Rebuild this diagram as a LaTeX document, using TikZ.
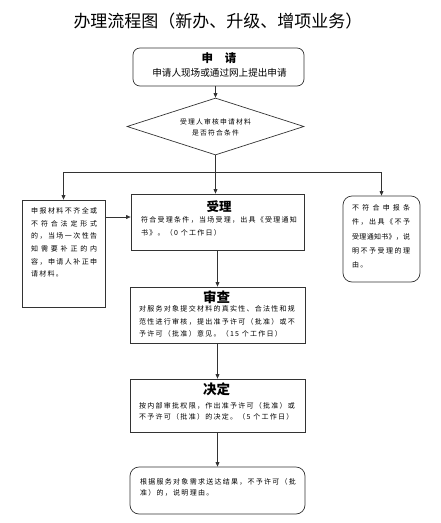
\documentclass[tikz,border=0pt]{standalone}
\usepackage{fontspec}
\usetikzlibrary{arrows.meta,shapes.geometric}
\setmainfont{Noto Sans CJK SC}
\newfontfamily\cjk{Noto Sans CJK SC}
\newfontfamily\cjksp[LetterSpace=18]{Noto Sans CJK SC}
\def\spr#1{#1\sprx}
\def\sprx#1{\ifx#1\relax\else\hfill#1\expandafter\sprx\fi}
\newcommand\jline[2]{\hbox to #1{\spr#2\relax}}
\begin{document}
\begin{tikzpicture}[x=1pt,y=-1pt,
  box/.style={draw=black!80,line width=0.7pt,inner sep=0pt},
  rbox/.style={box,rounded corners=7pt},
  arr/.style={draw=black!80,line width=0.7pt,-{Triangle[length=4.5pt,width=3.8pt]}},
  ln/.style={draw=black!80,line width=0.7pt},
  small/.style={inner sep=0pt,anchor=west,align=left,font=\cjksp\fontsize{7}{12.6}\selectfont},
  head/.style={inner sep=0pt,font=\cjk\bfseries\fontsize{12.5}{14}\selectfont}]
\useasboundingbox (0,0) rectangle (441,523);
% title
\node[inner sep=0pt,font=\cjk\fontsize{17}{20}\selectfont] (title) at (218,21.5) {办理流程图（新办、升级、增项业务）};
% boxes
\node[rbox,minimum width=171pt,minimum height=38pt] (sq) at (218.5,67) {};
\node[box,diamond,minimum width=177pt,minimum height=57pt] (dm) at (215.5,126.5) {};
\node[box,minimum width=83pt,minimum height=107pt] (lb) at (63.5,253.5) {};
\node[box,minimum width=173pt,minimum height=56pt] (sl) at (217.5,222) {};
\node[rbox,rounded corners=9pt,minimum width=77pt,minimum height=86pt] (rb) at (381.5,239) {};
\node[box,minimum width=175pt,minimum height=56pt] (sc) at (217.5,315) {};
\node[box,minimum width=175pt,minimum height=53pt] (jd) at (217.5,405.5) {};
\node[rbox,rounded corners=9pt,minimum width=175pt,minimum height=47pt] (fb) at (217.5,490.5) {};
% texts
\node[inner sep=0pt,font=\cjk\bfseries\fontsize{11.5}{13}\selectfont] (sqh) at (219,58.5) {申\hspace{12pt}请};
\node[inner sep=0pt,font=\cjk\fontsize{9.6}{11}\selectfont] (sqt) at (219.5,72.5) {申请人现场或通过网上提出申请};
\node[inner sep=0pt,align=center,font=\cjksp\fontsize{6.8}{11}\selectfont] (dmt) at (215.5,127.5) {受理人审核申请材料\\是否符合条件};
\node[small] (lbt) at (31,242.5) {\jline{66pt}{申报材料不齐全或}\\\jline{66pt}{不符合法定形式}\\\jline{66pt}{的，当场一次性告}\\\jline{66pt}{知需要补正的内}\\\jline{66pt}{容，申请人补正申}\\请材料。};
\node[head] (slh) at (219,206.5) {受理};
\node[small] (slt) at (141,226.5) {符合受理条件，当场受理，出具《受理通知\\书》。（0 个工作日）};
\node[small,font=\cjksp\fontsize{7}{14.2}\selectfont] (rbt) at (352,236.5) {\jline{58pt}{不符合申报条}\\\jline{58pt}{件，出具《不予}\\\jline{58pt}{受理通知书》，说}\\\jline{58pt}{明不予受理的理}\\由。};
\node[head,font=\cjk\bfseries\fontsize{13.5}{15}\selectfont] (sch) at (216.5,297) {审查};
\node[small] (sct) at (139,321.5) {对服务对象提交材料的真实性、合法性和规\\范性进行审核，提出准予许可（批准）或不\\予许可（批准）意见。（15 个工作日）};
\node[head,font=\cjk\bfseries\fontsize{13.5}{15}\selectfont] (jdh) at (216.5,389.5) {决定};
\node[small,font=\cjksp\fontsize{7}{11.2}\selectfont] (jdt) at (139,411.5) {按内部审批权限，作出准予许可（批准）或\\不予许可（批准）的决定。（5 个工作日）};
\node[small,font=\cjksp\fontsize{7}{11.2}\selectfont] (fbt) at (140,487.5) {根据服务对象需求送达结果，不予许可（批\\准）的，说明理由。};
% connectors
\coordinate (jn) at (215.5,172);
\coordinate (ly) at (0,217);
\draw[arr] (sq.south -| dm.north) -- (dm.north);
\draw[arr] (dm.south) -- (dm.south |- sl.north);
\draw[ln] (lb.north |- jn) -- (rb.north |- jn);
\draw[arr] (lb.north |- jn) -- (lb.north);
\draw[arr] (rb.north |- jn) -- (rb.north);
\draw[arr] (lb.east |- ly) -- (sl.west |- ly);
\draw[arr] (sl.south) -- (sc.north);
\draw[arr] (sc.south) -- (jd.north);
\draw[arr] (jd.south) -- (fb.north);
\end{tikzpicture}
\end{document}
